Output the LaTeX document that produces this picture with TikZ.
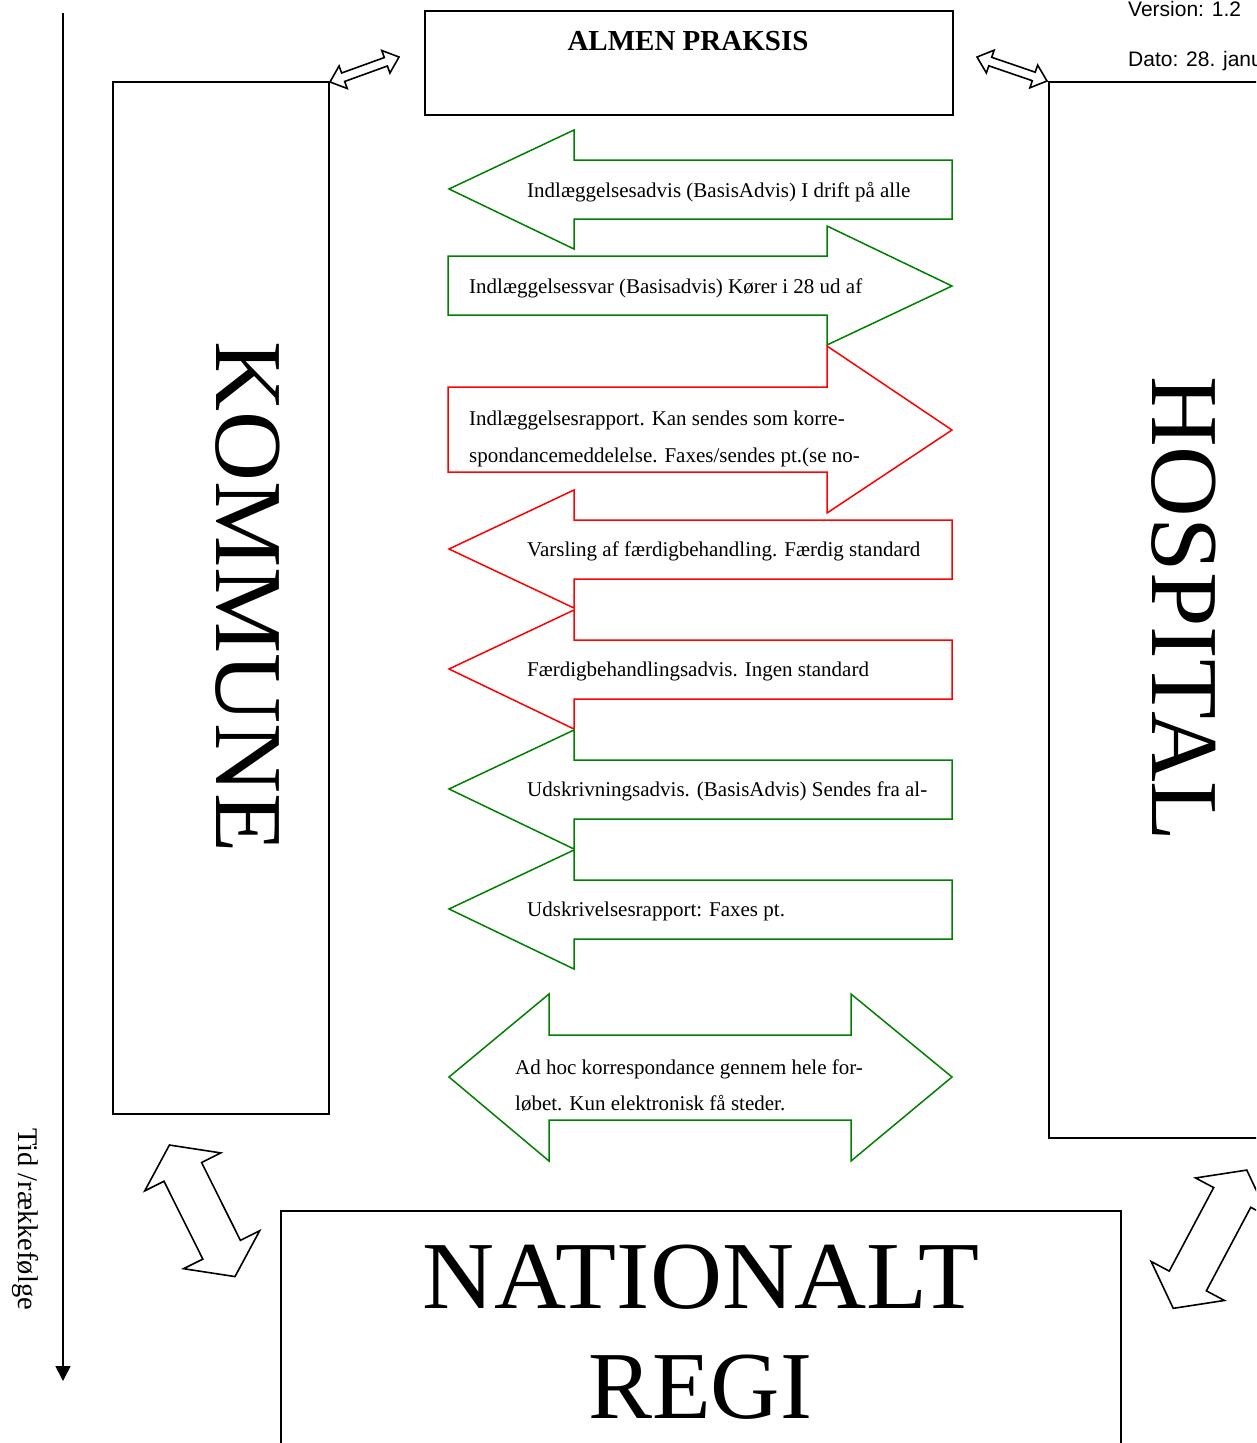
\documentclass[tikz,border=0pt]{standalone}
\usepackage{fontspec}
\setmainfont{Liberation Serif}
\newfontfamily\arialfont{Liberation Sans}
\usetikzlibrary{arrows.meta}
\definecolor{ggreen}{RGB}{0,128,0}
\definecolor{rred}{RGB}{255,0,0}
\newcommand{\hdbl}[7]{%
  \begin{scope}[shift={(#1,#2)},rotate=#3]
    \draw[hollow] ({-#4/2},0) -- ({-#4/2+#7},{#6/2}) -- ({-#4/2+#7},{#5/2}) -- ({#4/2-#7},{#5/2}) -- ({#4/2-#7},{#6/2}) -- ({#4/2},0) -- ({#4/2-#7},{-#6/2}) -- ({#4/2-#7},{-#5/2}) -- ({-#4/2+#7},{-#5/2}) -- ({-#4/2+#7},{-#6/2}) -- cycle;
  \end{scope}}
\tikzset{
  box/.style={draw=black, line width=1.6pt, fill=none, inner sep=0pt, anchor=north west},
  garrow/.style={draw=ggreen, line width=1.5pt, fill=white, line join=miter},
  rarrow/.style={draw=rred, line width=1.5pt, fill=white, line join=miter},
  hollow/.style={draw=black, line width=1.6pt, fill=white, line join=miter},
  txt/.style={font=\fontsize{21}{25}\selectfont, anchor=base west, inner sep=0pt},
  bigtxt/.style={font=\fontsize{96}{110}\selectfont, inner sep=0pt, anchor=base},
}
\begin{document}
\begin{tikzpicture}[x=1pt,y=-1pt]
\useasboundingbox (0,0) rectangle (1256,1443);
\clip (0,0) rectangle (1256,1443);

% boxes
\node[box, minimum width=528pt, minimum height=104pt] (almen) at (424,10) {};
\node[box, minimum width=216pt, minimum height=1032pt] (kommune) at (112,81) {};
\node[box, minimum width=300pt, minimum height=1056pt] (hospital) at (1048,81) {};
\node[box, minimum width=840pt, minimum height=300pt] (nat) at (280,1210) {};

% box texts
\node[font=\bfseries\fontsize{29}{34}\selectfont, anchor=base, inner sep=0pt] (almentxt) at (688,50) {ALMEN PRAKSIS};
\node[bigtxt, rotate=-90, xscale=1.01] (komtxt) at (216,597) {KOMMUNE};
\node[bigtxt, rotate=-90, xscale=1.02] (hostxt) at (1152,609) {HOSPITAL};
\node[bigtxt, xscale=1.04] (nattxt1) at (701,1308) {NATIONALT};
\node[bigtxt] (nattxt2) at (700,1418) {REGI};

% version
\node[font=\arialfont\fontsize{21}{25}\selectfont, anchor=base west, inner sep=0pt] (version) at (1128,16) {Version: 1.2};
\node[font=\arialfont\fontsize{21}{25}\selectfont, anchor=base west, inner sep=0pt] (dato) at (1128,66) {Dato: 28. janu};

% time line
\coordinate (t0) at (63,13);
\coordinate (t1) at (63,1381);
\draw[line width=1.7pt, -{Triangle[length=15pt,width=15pt]}] (t0) -- (t1);
\node[font=\fontsize{28.5}{32}\selectfont, rotate=-90, anchor=base west, inner sep=0pt] (tid) at (18,1128) {Tid /rækkefølge};

% block arrows
\draw[garrow] (449,189) -- (574,130) -- (574,160) -- (952,160) -- (952,219) -- (574,219) -- (574,249) -- cycle;
\draw[garrow] (448,256) -- (827,256) -- (827,226) -- (952,286) -- (827,345) -- (827,315) -- (448,315) -- cycle;
\draw[rarrow] (448,387) -- (827,387) -- (827,346) -- (952,430) -- (827,513) -- (827,472) -- (448,472) -- cycle;
\draw[rarrow] (449,549) -- (574,490) -- (574,520) -- (952,520) -- (952,579) -- (574,579) -- (574,608) -- cycle;
\draw[rarrow] (449,669) -- (574,610) -- (574,640) -- (952,640) -- (952,699) -- (574,699) -- (574,729) -- cycle;
\draw[garrow] (449,789) -- (574,730) -- (574,760) -- (952,760) -- (952,819) -- (574,819) -- (574,849) -- cycle;
\draw[garrow] (449,909) -- (574,850) -- (574,880) -- (952,880) -- (952,939) -- (574,939) -- (574,969) -- cycle;
\draw[garrow] (449,1077) -- (549,994) -- (549,1035) -- (851,1035) -- (851,994) -- (952,1077) -- (851,1161) -- (851,1120) -- (549,1120) -- (549,1161) -- cycle;

% arrow texts
\node[txt] (a1) at (527,197) {Indlæggelsesadvis (BasisAdvis) I drift på alle};
\node[txt] (a2) at (469,293) {Indlæggelsessvar (Basisadvis) Kører i 28 ud af};
\node[txt] (a3a) at (469,425) {Indlæggelsesrapport. Kan sendes som korre-};
\node[txt] (a3b) at (469,462) {spondancemeddelelse. Faxes/sendes pt.(se no-};
\node[txt] (a4) at (527,556) {Varsling af færdigbehandling. Færdig standard};
\node[txt] (a5) at (527,676) {Færdigbehandlingsadvis. Ingen standard};
\node[txt] (a6) at (527,796) {Udskrivningsadvis. (BasisAdvis) Sendes fra al-};
\node[txt] (a7) at (527,916) {Udskrivelsesrapport: Faxes pt.};
\node[txt] (a8a) at (515,1074) {Ad hoc korrespondance gennem hele for-};
\node[txt] (a8b) at (515,1110) {løbet. Kun elektronisk få steder.};

% hollow double arrows
\hdbl{364.5}{69.5}{19.9}{73.4}{9}{24}{14}
\hdbl{1012}{69}{-18.9}{74}{9}{24}{14}
\hdbl{202.2}{1210.8}{-63.5}{147}{42}{85}{30}
\hdbl{1210}{1239.2}{62}{156.6}{42}{83}{31}
\end{tikzpicture}
\end{document}
